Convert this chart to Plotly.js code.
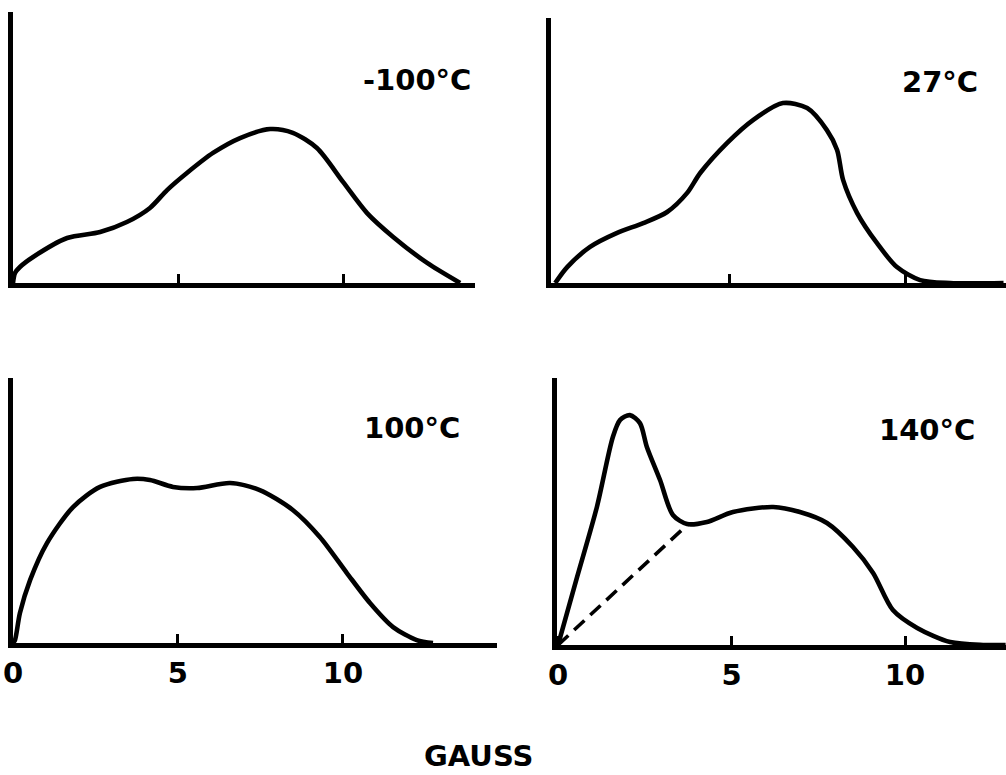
<!DOCTYPE html>
<html>
<head>
<meta charset="utf-8">
<script src="https://cdn.plot.ly/plotly-3.0.1.min.js"></script>
<style>html,body{margin:0;padding:0;background:#fff}#chart{width:1006px;height:775px}</style>
</head>
<body>
<div id="chart"></div>
<script>
// Panel labels
const panelLabels = ["-100°C", "27°C", "100°C", "140°C"];
const xTickVals = [0, 5, 10];
const xTickText = ["0", "5", "10"];
const xAxisTitle = "GAUSS";

// -100°C
const xA = [0, 0.06, 0.21, 0.61, 1.64, 2.64, 3.45, 4.15, 4.67, 5.27, 6.06, 6.88, 7.79, 8.48, 9.21, 10.0, 10.73, 11.52, 12.55, 13.55];
const yA = [0, 0.37, 0.59, 0.96, 1.66, 1.88, 2.25, 2.77, 3.43, 4.06, 4.80, 5.35, 5.68, 5.54, 4.98, 3.73, 2.58, 1.70, 0.74, 0];
// 27°C
const xB = [0.06, 0.4, 1.05, 1.82, 2.56, 3.24, 3.81, 4.18, 4.94, 5.68, 6.53, 7.22, 7.78, 8.07, 8.24, 8.64, 9.20, 9.77, 10.43, 11.28, 12.8];
const yB = [0, 0.6, 1.36, 1.89, 2.26, 2.68, 3.40, 4.15, 5.28, 6.15, 6.79, 6.60, 5.77, 5.02, 3.89, 2.64, 1.51, 0.60, 0.11, 0, 0];
// 100°C
const xC = [0, 0.06, 0.21, 0.52, 1.03, 1.82, 2.64, 3.64, 4.15, 4.85, 5.58, 6.58, 7.48, 8.48, 9.30, 10.12, 10.82, 11.52, 12.24, 12.73];
const yC = [0, 0.11, 1.13, 2.38, 3.77, 5.13, 5.89, 6.19, 6.15, 5.89, 5.85, 6.04, 5.77, 5.02, 4.0, 2.64, 1.51, 0.60, 0.11, 0];
// 140°C
const xD = [0, 0.55, 1.12, 1.58, 1.79, 2.07, 2.36, 2.56, 2.94, 3.31, 3.72, 4.29, 5.04, 6.20, 6.97, 7.75, 8.50, 9.08, 9.65, 10.35, 11.30, 12.25, 12.9];
const yD = [0, 2.55, 5.17, 7.79, 8.43, 8.61, 8.31, 7.42, 6.18, 4.87, 4.53, 4.61, 4.98, 5.17, 4.98, 4.57, 3.67, 2.70, 1.31, 0.64, 0.11, 0, 0];
// 140°C dashed baseline
const xDash = [0, 3.75];
const yDash = [0, 4.53];

const W = 1006, H = 775;
const line = {color: "#000", width: 4.6, shape: "spline", smoothing: 0.8};
const traces = [
  {x: xA, y: yA, xaxis: "x", yaxis: "y", mode: "lines", line: line},
  {x: xB, y: yB, xaxis: "x2", yaxis: "y2", mode: "lines", line: line},
  {x: xC, y: yC, xaxis: "x3", yaxis: "y3", mode: "lines", line: line},
  {x: xD, y: yD, xaxis: "x4", yaxis: "y4", mode: "lines", line: line},
  {x: xDash, y: yDash, xaxis: "x4", yaxis: "y4", mode: "lines", line: {color: "#000", width: 3.6, dash: "14px,8px"}}
];

const fnt = {family: "DejaVu Sans", size: 29, color: "#000", weight: "bold"};
function xax(domain, range, labels) {
  return {domain: domain, range: range, showgrid: false, zeroline: false, showline: true,
    linecolor: "#000", linewidth: 5, ticks: "inside", ticklen: 9, tickwidth: 3, tickcolor: "#000",
    tickmode: "array", tickvals: labels ? xTickVals : [5, 10], ticktext: labels ? xTickText : ["5", "10"],
    showticklabels: labels, tickfont: fnt, fixedrange: true};
}
function yax(domain, anchor) {
  return {domain: domain, range: [0, 10], showgrid: false, zeroline: false, showline: true,
    linecolor: "#000", linewidth: 5, ticks: "", showticklabels: false, anchor: anchor, fixedrange: true};
}
const px = v => v / W, py = v => (H - v) / H;

const layout = {
  width: W, height: H, margin: {l: 0, r: 0, t: 0, b: 0},
  paper_bgcolor: "#fff", plot_bgcolor: "rgba(0,0,0,0)", showlegend: false,
  xaxis: Object.assign(xax([px(13), px(475)], [0, 14.0], false), {anchor: "y"}),
  yaxis: yax([py(283), py(12)], "x"),
  xaxis2: Object.assign(xax([px(551), 1], [-0.06, 12.87], false), {anchor: "y2"}),
  yaxis2: yax([py(283), py(18)], "x2"),
  xaxis3: Object.assign(xax([px(13), px(497)], [0, 14.67], true), {anchor: "y3"}),
  yaxis3: yax([py(643), py(378)], "x3"),
  xaxis4: Object.assign(xax([px(557), 1], [-0.03, 12.91], true), {anchor: "y4"}),
  yaxis4: yax([py(645), py(378)], "x4"),
  annotations: [
    {text: panelLabels[0], x: px(417), y: py(80)},
    {text: panelLabels[1], x: px(940), y: py(82)},
    {text: panelLabels[2], x: px(412), y: py(428)},
    {text: panelLabels[3], x: px(927), y: py(430)},
    {text: xAxisTitle, x: px(478), y: py(756)}
  ].map(a => Object.assign(a, {xref: "paper", yref: "paper", showarrow: false, xanchor: "center", yanchor: "middle", font: fnt}))
};

Plotly.newPlot("chart", traces, layout, {displayModeBar: false, staticPlot: true});
</script>
</body>
</html>
